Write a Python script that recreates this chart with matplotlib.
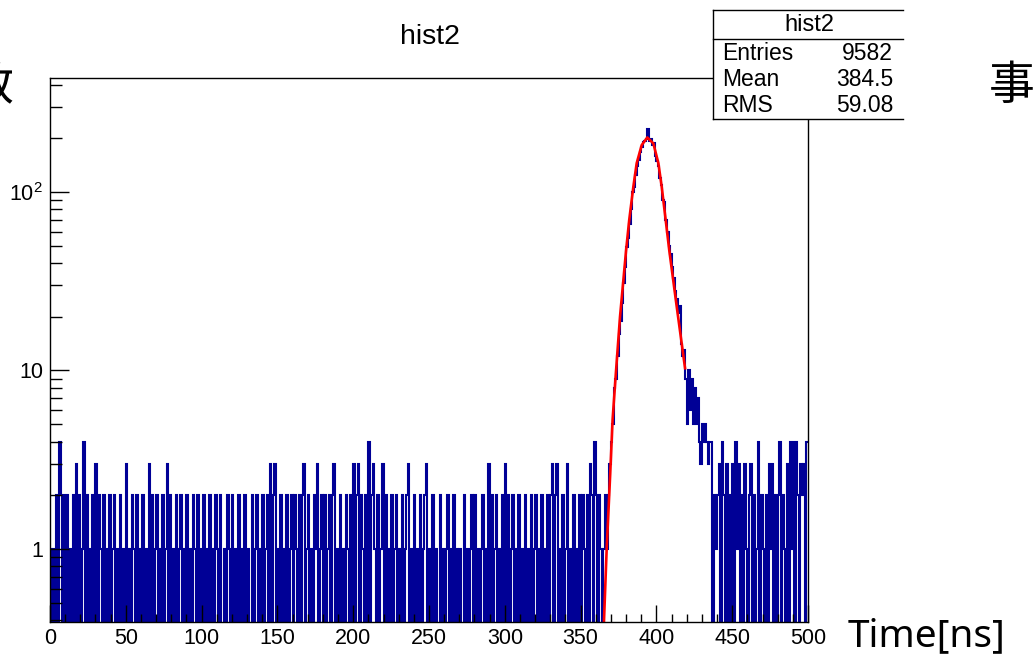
"""
ROOT-style time histogram (hist2) with the gaussian-like peak fit, log y.
"""

import numpy as np
import matplotlib
matplotlib.use("Agg")
import matplotlib.pyplot as plt
from matplotlib.lines import Line2D
from matplotlib.patches import Rectangle
from matplotlib.ticker import FixedLocator, FixedFormatter, NullFormatter

plt.rcParams["font.family"] = ["Liberation Sans", "DejaVu Sans"]
plt.rcParams["mathtext.fontset"] = "custom"
plt.rcParams["mathtext.rm"] = "Liberation Sans"

# ---- data: 500 bins of 1 ns from 0 to 500 ----
bin_edges = np.arange(0, 501)

# flat background, bins 0..364 (one digit per bin)
bg_left = (
    "1010204202" "0201020302" "0140201020" "3021020102" "0120102010"
    "3010210201" "0201030201" "2010201302" "0102012010" "2010210201"
    "0201020102" "1020010210" "2010201020" "1002012010" "2012030230"
    "1020102012" "0210202301" "2010213012" "0201202301" "0201021020"
    "3023021020" "4023102013" "0201020120" "1020123010" "2010201230"
    "1020100201" "0120102010" "1002010120" "2010120103" "0201201020"
    "3020120102" "0102010201" "2010201020" "2302301020" "1301020102"
    "0210203204" "20210"
)

# peak, bins 365..439
peak_counts = [
    1, 2, 1, 2, 3, 4, 5, 8, 9, 12,
    16, 19, 24, 31, 38, 49, 55, 66, 80, 100,
    107, 125, 140, 152, 168, 178, 190, 192, 197, 225,
    192, 198, 183, 187, 160, 150, 140, 120, 110, 90,
    88, 70, 60, 50, 45, 38, 33, 28, 25, 21,
    23, 14, 12, 13, 9, 5, 10, 6, 9, 5,
    8, 5, 7, 4, 3, 5, 4, 5, 4, 3,
    4, 4, 0, 2, 1,
]

# flat background, bins 440..499
bg_right = (
    "2304203020" "3041302031" "0230201402" "1020313020" "2402103041"
    "4042032304"
)

# fit curve (x in ns, y in counts)
fit_x = [365.3, 367.2, 369.5, 371.1, 373.2, 376.0, 380.0, 382.1, 384.8, 387.0,
         390.3, 394.0, 398.0, 401.3, 403.5, 406.1, 408.5, 413.4, 418.9]
fit_y = [0.37, 1.0, 2.6, 5.3, 9.5, 20, 47, 70, 107, 145,
         183, 202, 187, 145, 107, 70, 47, 22.8, 10.3]

stat_names = ["Entries", "Mean", "RMS"]
stat_values = ["9582", "384.5", "59.08"]

x_ticks = list(range(0, 501, 50))
y_ticks = [1, 10, 100]
y_ticklabels = ["1", "10", r"$\mathregular{10^{2}}$"]

counts = np.array([int(c) for c in bg_left] + peak_counts + [int(c) for c in bg_right], dtype=float)
assert len(counts) == 500

# ---- figure ----
W, H = 1033, 665
fig = plt.figure(figsize=(W / 100, H / 100), dpi=100)


def fx(px):
    return px / W


def fy(py):
    return 1 - py / H


ax = fig.add_axes([fx(50), fy(622), fx(808) - fx(50), fy(78) - fy(622)])
ax.set_yscale("log")

hist_color = "#000096"
plot_counts = np.where(counts > 0, counts, 1e-3)
ax.stairs(plot_counts, bin_edges, baseline=None, color=hist_color, lw=1.5)
ax.plot(fit_x, fit_y, color="#ff0000", lw=1.9)

ax.set_xlim(0, 500)
ax.set_ylim(0.39, 435)

ax.xaxis.set_major_locator(FixedLocator(x_ticks))
ax.xaxis.set_minor_locator(FixedLocator(list(range(0, 501, 10))))
ax.yaxis.set_major_locator(FixedLocator(y_ticks))
ax.yaxis.set_major_formatter(FixedFormatter(y_ticklabels))
minor_y = [m * 10.0 ** e for e in (-1, 0, 1, 2) for m in range(2, 10)]
ax.yaxis.set_minor_locator(FixedLocator(minor_y))
ax.yaxis.set_minor_formatter(NullFormatter())

ax.tick_params(axis="x", which="major", direction="in", length=12, width=1,
               labelsize=15.5, pad=4, top=False)
ax.tick_params(axis="x", which="minor", direction="in", length=5.5, width=1, top=False)
ax.tick_params(axis="y", which="major", direction="in", length=14, width=1,
               labelsize=15.5, pad=5, right=False)
ax.tick_params(axis="y", which="minor", direction="in", length=8.5, width=1, right=False)
for sp in ax.spines.values():
    sp.set_linewidth(1)

# title
fig.text(fx(430), fy(37), "hist2", ha="center", va="center", fontsize=20.5)

# stats box
fig.add_artist(Rectangle((fx(713), fy(119)), fx(903) - fx(713), fy(10) - fy(119),
                         transform=fig.transFigure, facecolor="white", edgecolor="none", zorder=5))
for (x0, y0, x1, y1) in [(713, 10, 903, 10), (713, 39, 903, 39), (713, 119, 903, 119), (713, 10, 713, 119)]:
    fig.add_artist(Line2D([fx(x0), fx(x1)], [fy(y0), fy(y1)], transform=fig.transFigure,
                          color="black", lw=1, zorder=6))
fig.text(fx(809), fy(25), "hist2", ha="center", va="center", fontsize=17, zorder=7)
for i, (name, val) in enumerate(zip(stat_names, stat_values)):
    y = 53 + i * 26.5
    fig.text(fx(722), fy(y), name, ha="left", va="center", fontsize=16.5, zorder=7)
    fig.text(fx(893), fy(y), val, ha="right", va="center", fontsize=16.5, zorder=7)

# japanese labels and axis label
jp = ["Noto Sans CJK JP", "DejaVu Sans"]
fig.text(fx(-33), fy(86), "数", ha="left", va="center", fontsize=33, family=jp)
fig.text(fx(989), fy(86), "事", ha="left", va="center", fontsize=33, family=jp)
fig.text(fx(848), fy(636), "Time[ns]", ha="left", va="center", fontsize=28,
         family=["Noto Sans", "DejaVu Sans"])

fig.savefig("out.png", dpi=100)
